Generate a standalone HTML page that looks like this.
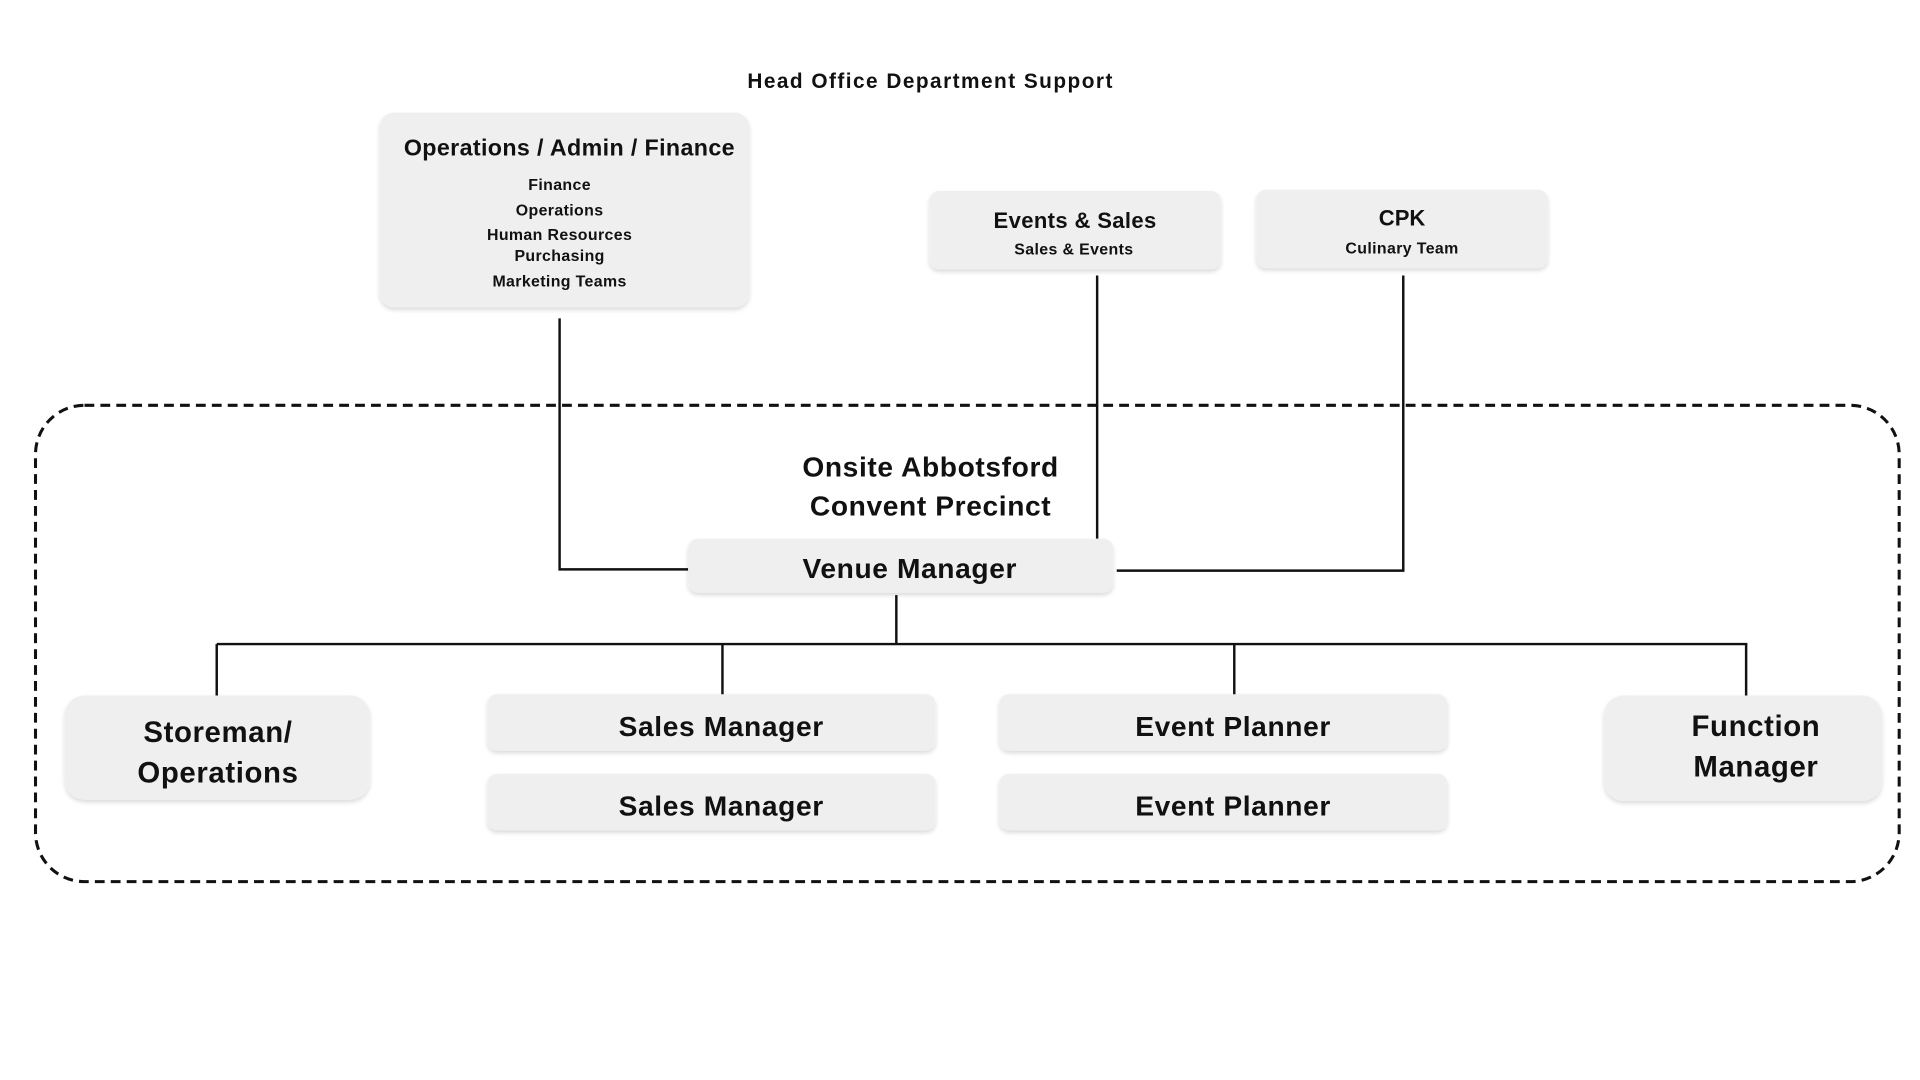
<!DOCTYPE html>
<html><head><meta charset="utf-8"><style>
html,body{margin:0;padding:0;background:#fff;width:1920px;height:1080px;overflow:hidden}
svg{display:block}
text{font-family:"Liberation Sans",sans-serif;fill:#111;text-anchor:middle;font-weight:bold}
</style></head><body>
<svg width="1920" height="1080" viewBox="0 0 1568 882" xmlns="http://www.w3.org/2000/svg">
<defs>
<filter id="sh" x="-10%" y="-20%" width="120%" height="150%">
<feGaussianBlur in="SourceAlpha" stdDeviation="2"/>
<feOffset dx="0" dy="2"/>
<feComponentTransfer><feFuncA type="linear" slope="0.15"/></feComponentTransfer>
<feMerge><feMergeNode/><feMergeNode in="SourceGraphic"/></feMerge>
</filter>
</defs>
<rect width="1568" height="882" fill="#fff"/>
<text x="760" y="72" font-size="17" letter-spacing="1.2">Head Office Department Support</text>

<rect x="29" y="331" width="1522" height="389" rx="40" fill="none" stroke="#111" stroke-width="2.5" stroke-dasharray="8,5"/>

<g stroke="#111" stroke-width="2" fill="none">
<polyline points="457,260 457,465 562,465"/>
<line x1="896" y1="225" x2="896" y2="440"/>
<polyline points="1146,225 1146,466 912,466"/>
<line x1="732" y1="486" x2="732" y2="526"/>
<line x1="177" y1="526" x2="1427" y2="526"/>
<line x1="177" y1="526" x2="177" y2="568"/>
<line x1="590" y1="526" x2="590" y2="568"/>
<line x1="1008" y1="526" x2="1008" y2="568"/>
<line x1="1426" y1="526" x2="1426" y2="568"/>
</g>

<g fill="#eeefee" filter="url(#sh)">
<rect x="310" y="92" width="302" height="159" rx="12"/>
<rect x="759" y="156" width="238" height="64" rx="8"/>
<rect x="1026" y="155" width="238" height="64" rx="8"/>
<rect x="562" y="440" width="347" height="44" rx="8"/>
<rect x="53" y="568" width="249" height="85" rx="16"/>
<rect x="398" y="567" width="366" height="46" rx="8"/>
<rect x="398" y="632" width="366" height="46" rx="8"/>
<rect x="816" y="567" width="366" height="46" rx="8"/>
<rect x="816" y="632" width="366" height="46" rx="8"/>
<rect x="1310" y="568" width="227" height="86" rx="16"/>
</g>

<text x="465" y="127" font-size="19" letter-spacing="0.3">Operations / Admin / Finance</text>
<g font-size="13" letter-spacing="0.3">
<text x="457" y="155">Finance</text>
<text x="457" y="176">Operations</text>
<text x="457" y="196">Human Resources</text>
<text x="457" y="213">Purchasing</text>
<text x="457" y="234">Marketing Teams</text>
</g>
<text x="878" y="186" font-size="18" letter-spacing="0.3">Events &amp; Sales</text>
<text x="877" y="208" font-size="13" letter-spacing="0.3">Sales &amp; Events</text>
<text x="1145" y="184" font-size="18">CPK</text>
<text x="1145" y="207" font-size="13" letter-spacing="0.3">Culinary Team</text>

<g letter-spacing="0.5">
<text x="760" y="389" font-size="23">Onsite Abbotsford</text>
<text x="760" y="421" font-size="23">Convent Precinct</text>
<text x="743" y="472" font-size="23">Venue Manager</text>
<text x="178" y="606" font-size="24">Storeman/</text>
<text x="178" y="639" font-size="24">Operations</text>
<text x="589" y="601" font-size="23">Sales Manager</text>
<text x="589" y="666" font-size="23">Sales Manager</text>
<text x="1007" y="601" font-size="23">Event Planner</text>
<text x="1007" y="666" font-size="23">Event Planner</text>
<text x="1434" y="601" font-size="24">Function</text>
<text x="1434" y="634" font-size="24">Manager</text>
</g>
</svg>
</body></html>
